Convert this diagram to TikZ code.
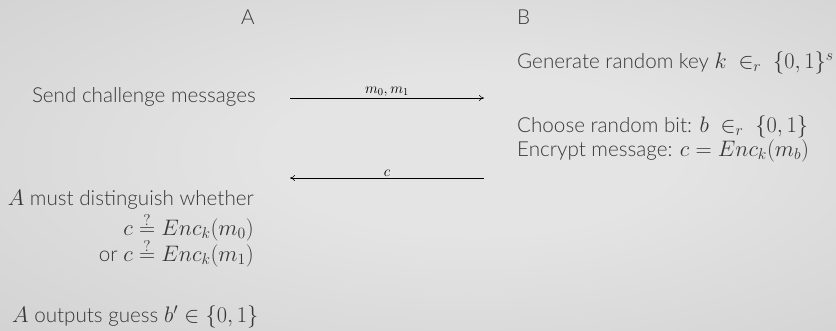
\RequirePackage{fix-cm}
\documentclass[tikz,border=0pt]{standalone}
\usepackage[no-math]{fontspec}
\setmainfont{Lato Light}[Scale=0.92]
\usetikzlibrary{arrows.meta}
\definecolor{txt}{HTML}{383838}
\definecolor{bgin}{HTML}{E4E4E4}
\definecolor{bgout}{HTML}{BABABA}
\pgfdeclareradialshading{bgshade}{\pgfpoint{4bp}{2bp}}{color(0bp)=(bgin); color(12bp)=(bgin); color(75bp)=(bgout)}
\tikzset{
  lbl/.style={inner sep=0pt, text=txt, font=\fontsize{22.5}{26}\selectfont},
  msg/.style={inner sep=1.5pt, font=\fontsize{15}{17}\selectfont},
  arr/.style={-{To[length=5pt,width=6pt]}, line width=0.6pt, black}
}
\begin{document}
\begin{tikzpicture}[x=1bp,y=1bp]
\shade[shading=bgshade] (0,0) rectangle (836,-330);
\useasboundingbox (0,0) rectangle (836,-330);
\node[lbl] (A) at (248,-17) {A};
\node[lbl, anchor=west] (B) at (517,-17) {B};
\node[lbl, anchor=east] (send) at (256,-97) {Send challenge messages};
\node[lbl, anchor=west] (gen) at (517,-63) {Generate random key $k\ \in_r\ \{0,1\}^s$};
\node[lbl, anchor=west] (choose) at (517,-127) {Choose random bit: $b\ \in_r\ \{0,1\}$};
\node[lbl, anchor=west] (enc) at (517,-151) {Encrypt message: $c = Enc_k(m_b)$};
\coordinate (a1s) at (290,-98);
\coordinate (a1e) at (484,-98);
\coordinate (a2s) at (484,-178);
\coordinate (a2e) at (290,-178);
\draw[arr] (a1s) -- node[msg, above] {$m_0,m_1$} (a1e);
\draw[arr] (a2s) -- node[msg, above] {$c$} (a2e);
\node[lbl, anchor=east] (dist) at (254,-200) {$A$ must distinguish whether};
\node[lbl, anchor=east] (eq1) at (254,-227) {$c \stackrel{?}{=} Enc_k(m_0)$};
\node[lbl, anchor=east] (eq2) at (254,-253) {or $c \stackrel{?}{=} Enc_k(m_1)$};
\node[lbl, anchor=west] (out) at (12,-317) {$A$ outputs guess $b' \in \{0,1\}$};
\end{tikzpicture}
\end{document}
